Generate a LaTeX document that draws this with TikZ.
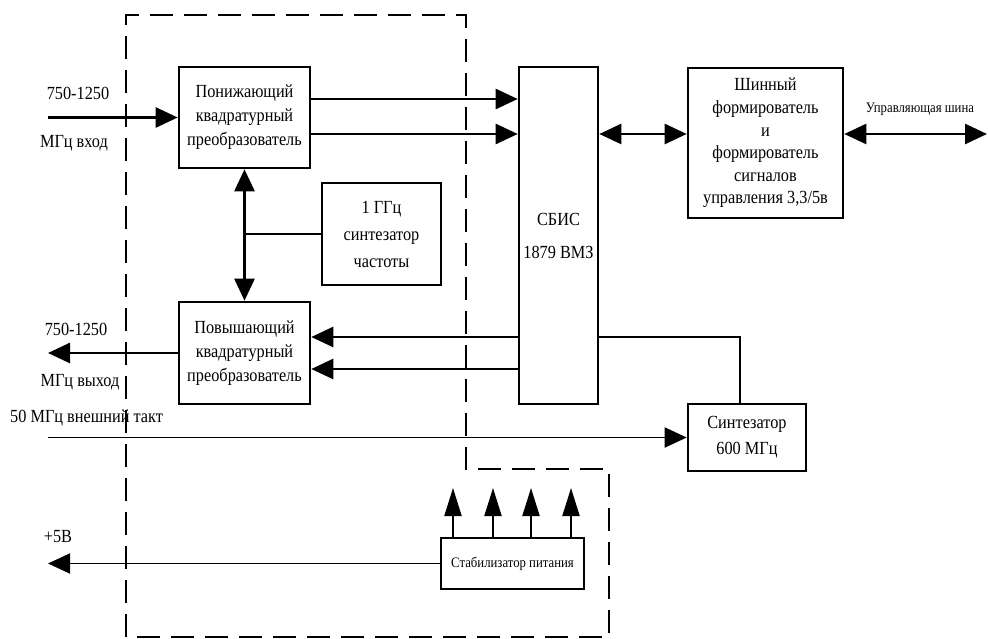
\documentclass[tikz,border=0pt]{standalone}
\usepackage{fontspec}
\setmainfont{Liberation Serif}[FakeStretch=0.88]
\usetikzlibrary{arrows.meta}
\begin{document}
\begin{tikzpicture}[x=1pt,y=-1pt,
  box/.style={draw,line width=2.6pt,inner sep=0pt,align=center,font=\fontsize{18.5}{24}\selectfont},
  lbl/.style={inner sep=0pt,font=\fontsize{18.5}{20}\selectfont},
  small/.style={inner sep=0pt,font=\fontsize{14.5}{16}\selectfont},
  wire/.style={line width=2.6pt},
  thin/.style={line width=1.9pt},
  arr/.style={wire,-{Triangle[length=22pt,width=20pt]}},
  darr/.style={wire,{Triangle[length=22pt,width=20pt]}-{Triangle[length=22pt,width=20pt]}},
  uparr/.style={line width=2pt,-{Triangle[length=28pt,width=17pt]}},
  frame/.style={line width=2.6pt,dash pattern=on 23pt off 11pt}]
\useasboundingbox (0,0) rectangle (988,639);

% dashed outline of the module
\draw[frame] (126,637) -- (126,15) -- (466,15) -- (466,469) -- (609,469) -- (609,637) -- cycle;

% blocks
\node[box,minimum width=131pt,minimum height=101pt] (dn) at (244.5,117.5) {Понижающий\\квадратурный\\преобразователь};
\node[box,minimum width=131pt,minimum height=102pt] (up) at (244.5,353) {Повышающий\\квадратурный\\преобразователь};
\node[box,minimum width=119pt,minimum height=102pt,font=\fontsize{18.5}{27}\selectfont] (syn1) at (381.5,234) {1 ГГц\\синтезатор\\частоты};
\node[box,minimum width=79pt,minimum height=337pt,font=\fontsize{18.5}{33}\selectfont] (sbis) at (558.5,235.5) {СБИС\\1879 ВМЗ};
\node[box,minimum width=155pt,minimum height=150pt,font=\fontsize{18.5}{22.6}\selectfont] (bus) at (765.5,143) {Шинный\\формирователь\\и\\формирователь\\сигналов\\управления 3,3/5в};
\node[box,minimum width=118pt,minimum height=67pt,font=\fontsize{18.5}{26}\selectfont] (syn6) at (747,437.5) {Синтезатор\\600 МГц};
\node[box,minimum width=143pt,minimum height=51pt,font=\fontsize{14.5}{16}\selectfont] (stab) at (512.5,563.5) {Стабилизатор питания};

% row and end coordinates
\coordinate (rowA) at (0,99);
\coordinate (rowB) at (0,134);
\coordinate (rowC) at (0,337);
\coordinate (rowD) at (0,369);
\coordinate (in1) at (48,117.5);
\coordinate (out1) at (48,353);
\coordinate (clk) at (48,437.5);
\coordinate (pwr) at (48,563.5);
\coordinate (busend) at (987,134);
\coordinate (tap) at (740,404);
\coordinate (s1) at (453,488);
\coordinate (s2) at (493,488);
\coordinate (s3) at (531,488);
\coordinate (s4) at (571,488);

% connectors
\draw[arr] (in1) -- (dn.west);
\draw[arr] (dn.east |- rowA) -- (sbis.west |- rowA);
\draw[arr] (dn.east |- rowB) -- (sbis.west |- rowB);
\draw[darr] (sbis.east |- rowB) -- (bus.west |- rowB);
\draw[darr] (bus.east |- rowB) -- (busend);
\draw[darr] (dn.south) -- (up.north);
\draw[wire] (syn1.west) -- (dn.south |- syn1.west);
\draw[arr] (sbis.west |- rowC) -- (up.east |- rowC);
\draw[arr] (sbis.west |- rowD) -- (up.east |- rowD);
\draw[arr] (up.west) -- (out1);
\draw[thin] (sbis.east |- rowC) -| (tap);
\draw[thin,-{Triangle[length=22pt,width=20pt]}] (clk) -- (syn6.west);
\draw[thin,-{Triangle[length=22pt,width=20pt]}] (stab.west) -- (pwr);
\draw[uparr] (stab.north -| s1) -- (s1);
\draw[uparr] (stab.north -| s2) -- (s2);
\draw[uparr] (stab.north -| s3) -- (s3);
\draw[uparr] (stab.north -| s4) -- (s4);

% labels
\node[lbl] (l1) at (78,93) {750-1250};
\node[lbl] (l2) at (74,143) {МГц вход};
\node[lbl] (l3) at (76,329) {750-1250};
\node[lbl] (l4) at (80,382) {МГц выход};
\node[lbl,anchor=west] (l5) at (10,418) {50 МГц внешний такт};
\node[lbl] (l6) at (58,537) {+5В};
\node[small] (l7) at (920,109) {Управляющая шина};
\end{tikzpicture}
\end{document}
